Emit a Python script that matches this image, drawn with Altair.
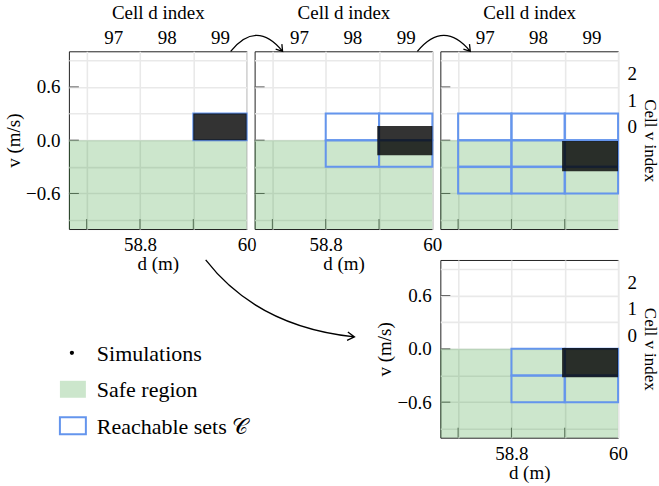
import altair as alt
import pandas as pd

# ---------------- data ----------------
D_RANGE = [58.0, 60.0]
V_RANGE = [-1.0, 1.0]

d_cells = [97, 98, 99]
d_cell_edges = [58.2, 58.8, 59.4, 60.0]
v_cells = [-2, -1, 0, 1, 2]
v_cell_edges = [-0.6, -0.3, 0.0, 0.3, 0.6, 0.9]
v_cells_labelled = [0, 1, 2]

d_grid = [58.2, 58.8, 59.4, 60.0]
d_ticks = [58.2, 58.8, 59.4]
d_labels = {58.8: "58.8", 60.0: "60"}
v_grid = [-0.9, -0.6, -0.3, 0.0, 0.3, 0.6, 0.9]
v_ticks = [-0.6, 0.0, 0.6]
v_labels = {-0.6: "\u22120.6", 0.0: "0.0", 0.6: "0.6"}

safe_d = [58.0, 60.0]
safe_v = [-1.0, 0.0]

reach_d_cells = [[99], [98, 99], [97, 98, 99], [98, 99]]
reach_v_cells = [[0], [-1, 0], [-2, -1, 0], [-2, -1]]

sim_d_min = [59.40, 59.38, 59.37, 59.37]
sim_d_max = [60.0, 60.0, 60.0, 60.0]
sim_v_min = [0.0, -0.17, -0.35, -0.32]
sim_v_max = [0.30, 0.16, -0.01, 0.01]

legend_items = ["Simulations", "Safe region", "Reachable sets \U0001D49E"]
legend_rows = [0, 1, 2]

# ---------------- style ----------------
W = H = 178
FONT = "Liberation Serif"
GRID = "#e9e9e9"
SAFE = "#008000"
BLUE = "#6495ED"
TICK = "#666666"


def label_expr(mapping):
    expr = "''"
    for val, txt in mapping.items():
        expr = f"abs(datum.value - ({val})) < 1e-6 ? '{txt}' : " + expr
    return expr


d_centers = [(d_cell_edges[i] + d_cell_edges[i + 1]) / 2 for i in range(len(d_cells))]
v_centers = {c: (v_cell_edges[i] + v_cell_edges[i + 1]) / 2 for i, c in enumerate(v_cells)}
top_map = {round(c, 4): str(n) for c, n in zip(d_centers, d_cells)}
right_map = {round(v_centers[c], 4): str(c) for c in v_cells_labelled}


def reach_df(k):
    rows = []
    for dc in reach_d_cells[k]:
        i = d_cells.index(dc)
        for vc in reach_v_cells[k]:
            j = v_cells.index(vc)
            rows.append({"d0": d_cell_edges[i], "d1": d_cell_edges[i + 1],
                         "v0": v_cell_edges[j], "v1": v_cell_edges[j + 1]})
    return pd.DataFrame(rows)


ARROWS = {
    "a1": "M -24 0 Q 2 -32 28 0 M 21.1 -2.1 L 28 0 L 27.3 -7.2",
    "a2": "M -23 0 Q 3.5 -32 30 0 M 23.1 -2.1 L 30 0 L 29.2 -7.2",
    "big": "M 137 0 Q 189 67 286 77 M 278.6 80.5 L 286 77 L 279.4 72.1",
}


def arrow_layer(path):
    return alt.Chart(pd.DataFrame({"a": [0]})).mark_point(
        shape=path, filled=False, color="black", opacity=1, strokeWidth=1.3, size=4
    ).encode(x=alt.value(0), y=alt.value(0))


def panel(k, left=False, bottom=False, top=False, right=False, arrow=None):
    xs = alt.Scale(domain=D_RANGE, nice=False, zero=False)
    ys = alt.Scale(domain=V_RANGE, nice=False, zero=False)

    xa = dict(values=d_grid, grid=True, gridColor=GRID, gridWidth=1.6, ticks=False,
              tickSize=0, domain=False, labels=bottom, labelFlush=False,
              labelOverlap=False, labelPadding=7, labelExpr=label_expr(d_labels),
              orient="bottom", title=None)
    if bottom:
        xa.update(title="d (m)", titlePadding=0)
    ya = dict(values=v_grid, grid=True, gridColor=GRID, gridWidth=1.6, ticks=False,
              tickSize=0, domain=False, labels=left, labelFlush=False,
              labelOverlap=False, labelPadding=9, labelExpr=label_expr(v_labels),
              orient="left", title=None)
    if left:
        ya.update(title="v (m/s)", titlePadding=2)

    layers = []
    layers.append(alt.Chart(pd.DataFrame({"d": d_ticks})).mark_rule(color=TICK, strokeWidth=1).encode(
        x=alt.X("d:Q", scale=xs, axis=None), y=alt.value(H), y2=alt.value(H - 10)))
    layers.append(alt.Chart(pd.DataFrame({"v": v_ticks})).mark_rule(color=TICK, strokeWidth=1).encode(
        y=alt.Y("v:Q", scale=ys, axis=None), x=alt.value(0), x2=alt.value(10)))

    safe = pd.DataFrame({"d0": [safe_d[0]], "d1": [safe_d[1]], "v0": [safe_v[0]], "v1": [safe_v[1]]})
    layers.append(alt.Chart(safe).mark_rect(color=SAFE, opacity=0.2).encode(
        x=alt.X("d0:Q", scale=xs, axis=alt.Axis(**xa)), x2="d1",
        y=alt.Y("v0:Q", scale=ys, axis=alt.Axis(**ya)), y2="v1"))

    if top:
        xt = alt.Axis(values=d_centers, grid=False, ticks=False, tickSize=0, domain=False,
                      labelFlush=False, labelOverlap=False, labelPadding=4,
                      labelExpr=label_expr(top_map), orient="top",
                      title="Cell d index", titlePadding=6)
    else:
        xt = None
    if right:
        yr = alt.Axis(values=[v_centers[c] for c in v_cells_labelled], grid=False, ticks=False,
                      tickSize=0, domain=False, labelFlush=False, labelOverlap=False,
                      labelPadding=9, labelExpr=label_expr(right_map), orient="right",
                      title="Cell v index", titlePadding=4, titleFontSize=17)
    else:
        yr = None
    layers.append(alt.Chart(reach_df(k)).mark_rect(
        fillOpacity=0, stroke=BLUE, strokeWidth=2).encode(
        x=alt.X("d0:Q", scale=xs, axis=xt), x2="d1",
        y=alt.Y("v0:Q", scale=ys, axis=yr), y2="v1"))

    sim = pd.DataFrame({"d0": [sim_d_min[k]], "d1": [sim_d_max[k]],
                        "v0": [sim_v_min[k]], "v1": [sim_v_max[k]]})
    layers.append(alt.Chart(sim).mark_rect(color="black", opacity=0.8).encode(
        x=alt.X("d0:Q", scale=xs, axis=None), x2="d1",
        y=alt.Y("v0:Q", scale=ys, axis=None), y2="v1"))

    if arrow:
        layers.append(arrow_layer(ARROWS[arrow]))

    return alt.layer(*layers).resolve_axis(x="independent", y="independent").properties(
        width=W, height=H)


p1 = panel(0, left=True, bottom=True, top=True)
p2 = panel(1, bottom=True, top=True, arrow="a1")
p3 = panel(2, top=True, right=True, arrow="a2")
p4 = panel(3, left=True, bottom=True, right=True)

# legend cell
leg = pd.DataFrame({"item": legend_items, "row": legend_rows})
ly = alt.Y("row:Q", scale=alt.Scale(domain=[0, 2], range=[93, 166]), axis=None)
RECT = "M -13 -8.5 L 13 -8.5 L 13 8.5 L -13 8.5 Z"
leg_layers = [
    alt.Chart(leg).transform_filter(alt.datum.row == 0).mark_point(
        filled=True, color="black", size=18, opacity=1).encode(x=alt.value(3), y=ly),
    alt.Chart(leg).transform_filter(alt.datum.row == 1).mark_point(
        shape=RECT, filled=True, color="#cce6cc", size=4, opacity=1).encode(x=alt.value(4), y=ly),
    alt.Chart(leg).transform_filter(alt.datum.row == 2).mark_point(
        shape=RECT, filled=False, color=BLUE, strokeWidth=2, size=4, opacity=1).encode(x=alt.value(4), y=ly),
    alt.Chart(leg).mark_text(align="left", baseline="middle", font=FONT, fontSize=22,
                             color="black", dy=1).encode(x=alt.value(28), y=ly, text="item:N"),
    arrow_layer(ARROWS["big"]),
]
legend_cell = alt.layer(*leg_layers).properties(
    width=W, height=H, view=alt.ViewBackground(strokeOpacity=0))

blank = alt.Chart(pd.DataFrame({"a": [0]})).mark_point(opacity=0).encode(
    x=alt.value(0), y=alt.value(0)).properties(
    width=W, height=H, view=alt.ViewBackground(strokeOpacity=0))

chart = alt.concat(p1, p2, p3, legend_cell, blank, p4, columns=3,
                   spacing={"row": 31, "column": 8}, bounds="flush").properties(
    padding={"left": 4, "top": 2, "right": 0, "bottom": 0}
).configure_view(stroke="#222222", strokeWidth=1).configure_axis(
    labelFont=FONT, titleFont=FONT, labelFontSize=19, titleFontSize=19,
    titleFontWeight="normal", labelColor="black", titleColor="black")

chart.save("out.html", embed_options={"renderer": "svg", "actions": False})
